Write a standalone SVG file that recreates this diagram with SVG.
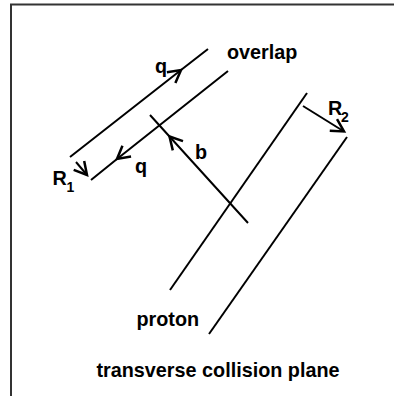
<svg xmlns="http://www.w3.org/2000/svg" width="394" height="396" viewBox="0 0 394 396">
<defs>
<style>
.ln{fill:none;stroke:#000;stroke-width:2;}
.fr{fill:none;stroke:#333;stroke-width:2;}
.t{font-family:"Liberation Sans",Arial,sans-serif;font-weight:bold;font-size:19.8px;fill:#000;}
.s{font-family:"Liberation Sans",Arial,sans-serif;font-weight:bold;font-size:14px;fill:#000;}
</style>
<marker id="arr" markerUnits="userSpaceOnUse" markerWidth="20" markerHeight="20" viewBox="-12 -8 14 16" refX="0" refY="0" orient="auto" overflow="visible">
<path d="M-10,-5.5 L0,0 L-10,5.5" fill="none" stroke="#000" stroke-width="2"/>
</marker>
</defs>
<rect width="394" height="396" fill="#fff"/>
<g id="frame">
<path class="fr" d="M11,396 L11,4.5 L394,4.5"/>
</g>
<g id="connectors">
<path id="q-up" class="ln" d="M70,157 L181,70 L208,49" marker-mid="url(#arr)"/>
<path id="q-down" class="ln" d="M228,71 L117,159 L91,180" marker-mid="url(#arr)"/>
<path id="b-line" class="ln" d="M248,223 L169.5,136.5 L150,115" marker-mid="url(#arr)"/>
<path id="proton1" class="ln" d="M307,93 L170,290"/>
<path id="proton2" class="ln" d="M347,137 L209,334"/>
<path id="r1" class="ln" d="M76,162 L87,175" marker-end="url(#arr)"/>
<path id="r2" class="ln" d="M303,106 L344,131.5" marker-end="url(#arr)"/>
</g>
<g id="labels">
<text class="t" x="155" y="73">q</text>
<text class="t" x="227" y="59">overlap</text>
<text class="t" x="135" y="173">q</text>
<text class="t" x="195" y="159">b</text>
<text class="t" x="52.5" y="184.5">R</text>
<text class="s" x="66.5" y="192">1</text>
<text class="t" x="328" y="115">R</text>
<text class="s" x="341" y="122">2</text>
<text class="t" x="136.5" y="326">proton</text>
<text class="t" x="96.5" y="377">transverse collision plane</text>
</g>
</svg>
